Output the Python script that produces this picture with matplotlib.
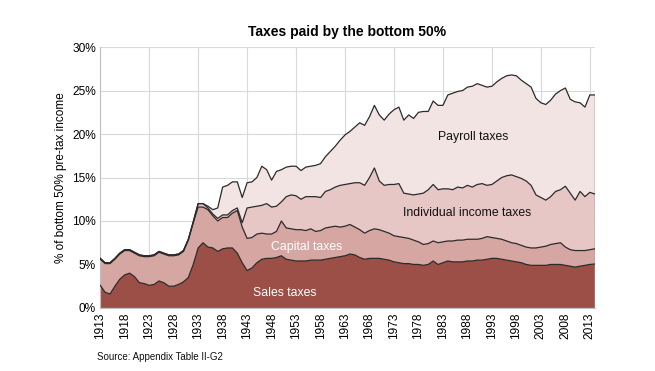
import matplotlib
matplotlib.use("Agg")
import matplotlib.pyplot as plt
import numpy as np

plt.rcParams['font.family'] = ['Liberation Sans', 'DejaVu Sans']

years = list(range(1913, 2015))

sales = [
    2.6, 1.8, 1.6, 2.5, 3.3, 3.8, 4.0, 3.6, 2.9, 2.8,
    2.6, 2.7, 3.1, 2.9, 2.5, 2.5, 2.7, 3.0, 3.5, 5.0,
    6.9, 7.5, 7.0, 6.9, 6.5, 6.8, 6.9, 6.9, 6.3, 5.2,
    4.3, 4.6, 5.2, 5.6, 5.7, 5.7, 5.8, 6.0, 5.6, 5.5,
    5.4, 5.4, 5.4, 5.5, 5.5, 5.5, 5.6, 5.7, 5.8, 5.9,
    6.0, 6.2, 6.1, 5.8, 5.6, 5.7, 5.7, 5.7, 5.6, 5.5,
    5.3, 5.2, 5.1, 5.1, 5.0, 5.0, 4.9, 5.0, 5.4, 5.0,
    5.2, 5.4, 5.3, 5.3, 5.3, 5.4, 5.4, 5.5, 5.5, 5.6,
    5.7, 5.7, 5.6, 5.5, 5.4, 5.3, 5.2, 5.0, 4.9, 4.9,
    4.9, 4.9, 5.0, 5.0, 5.0, 4.9, 4.8, 4.7, 4.8, 4.9,
    5.0, 5.05,
]

capital = [
    3.0, 3.3, 3.5, 3.1, 2.9, 2.8, 2.6, 2.7, 3.1, 3.1,
    3.3, 3.3, 3.3, 3.3, 3.5, 3.5, 3.4, 3.5, 4.3, 4.8,
    4.7, 4.1, 4.3, 3.7, 3.5, 3.6, 3.5, 4.0, 4.9, 4.1,
    3.7, 3.5, 3.3, 3.0, 2.8, 2.8, 3.0, 4.0, 3.6, 3.6,
    3.6, 3.6, 3.5, 3.6, 3.3, 3.4, 3.6, 3.6, 3.6, 3.4,
    3.4, 3.4, 3.2, 3.2, 3.0, 3.2, 3.4, 3.3, 3.2, 3.1,
    3.0, 3.0, 3.0, 2.9, 2.8, 2.6, 2.4, 2.4, 2.3, 2.5,
    2.4, 2.3, 2.4, 2.5, 2.5, 2.5, 2.5, 2.4, 2.5, 2.6,
    2.4, 2.3, 2.3, 2.2, 2.1, 2.1, 2.0, 2.0, 2.0, 2.0,
    2.1, 2.2, 2.3, 2.4, 2.5, 2.1, 1.9, 1.9, 1.8, 1.7,
    1.7, 1.75,
]

individual = [
    0.1, 0.1, 0.1, 0.1, 0.1, 0.1, 0.1, 0.1, 0.1, 0.1,
    0.1, 0.1, 0.1, 0.1, 0.1, 0.1, 0.1, 0.1, 0.1, 0.1,
    0.4, 0.4, 0.2, 0.2, 0.3, 0.3, 0.3, 0.3, 0.3, 0.5,
    3.5, 3.5, 3.2, 3.2, 3.5, 3.1, 2.9, 2.2, 3.6, 3.9,
    3.9, 3.5, 3.9, 3.7, 4.0, 3.8, 4.2, 4.3, 4.5, 4.8,
    4.8, 4.7, 5.1, 5.4, 5.5, 6.1, 7.0, 5.6, 5.3, 5.6,
    5.9, 6.1, 5.1, 5.1, 5.2, 5.5, 5.9, 6.2, 6.5, 6.1,
    6.1, 6.0, 5.9, 6.1, 6.0, 6.2, 6.0, 6.3, 6.3, 5.9,
    6.1, 6.6, 7.1, 7.5, 7.8, 7.7, 7.7, 7.6, 7.2, 6.1,
    5.7, 5.3, 5.5, 6.0, 6.1, 7.0, 6.5, 5.8, 6.8, 6.2,
    6.6, 6.3,
]

payroll = [
    0.0, 0.0, 0.0, 0.0, 0.0, 0.0, 0.0, 0.0, 0.0, 0.0,
    0.0, 0.0, 0.0, 0.0, 0.0, 0.0, 0.0, 0.0, 0.0, 0.0,
    0.0, 0.0, 0.2, 0.5, 1.2, 3.2, 3.4, 3.3, 3.0, 2.9,
    2.9, 2.9, 3.3, 4.5, 3.9, 3.1, 4.0, 3.7, 3.4, 3.3,
    3.4, 3.3, 3.4, 3.5, 3.6, 3.9, 4.0, 4.4, 4.7, 5.2,
    5.7, 6.0, 6.4, 6.9, 6.9, 7.0, 7.2, 7.6, 7.5, 8.1,
    8.6, 8.8, 8.4, 9.1, 8.8, 9.4, 9.4, 9.0, 9.6, 9.7,
    9.6, 10.8, 11.1, 11.0, 11.2, 11.3, 11.6, 11.6, 11.3, 11.3,
    11.3, 11.4, 11.4, 11.5, 11.5, 11.6, 11.3, 11.2, 11.3, 11.1,
    10.9, 11.0, 11.1, 11.2, 11.4, 11.3, 10.8, 11.3, 10.2, 10.3,
    11.2, 11.4,
]

series_names = ["Sales taxes", "Capital taxes", "Individual income taxes", "Payroll taxes"]
colors = ["#9b4f47", "#d6a7a2", "#e7c7c5", "#f3e4e4"]
tick_years = list(range(1913, 2014, 5))
grid_years = list(range(1913, 2014, 10))

fig = plt.figure(figsize=(6.55, 3.71), dpi=100)
ax = fig.add_axes([0.153, 0.170, 0.755, 0.703])

x = np.array(years)
layers = [np.array(sales), np.array(capital), np.array(individual), np.array(payroll)]
base = np.zeros(len(x))
for vals, col in zip(layers, colors):
    top = base + vals
    ax.fill_between(x, base, top, facecolor=col, edgecolor='none', zorder=2)
    ax.plot(x, top, color='#2b2b2b', lw=0.9, zorder=3)
    base = top
ax.plot([x[-1], x[-1]], [0, base[-1]], color='#444444', lw=1.0, zorder=3)

ax.set_xlim(1913, 2014)
ax.set_ylim(0, 30)
ax.set_yticks(range(0, 31, 5))
ax.set_yticklabels([f"{v}%" for v in range(0, 31, 5)], fontsize=8.6)
ax.set_xticks(tick_years)
ax.set_xticklabels([str(y) for y in tick_years], rotation=90, fontsize=8.6)
ax.tick_params(length=0, pad=3)

for gy in grid_years:
    ax.axvline(gy, color='#d9d9d9', lw=0.8, zorder=1)
for v in range(5, 31, 5):
    ax.axhline(v, color='#d9d9d9', lw=0.8, zorder=1)

for s in ['top', 'right']:
    ax.spines[s].set_visible(False)
ax.spines['left'].set_color('#bfbfbf')
ax.spines['bottom'].set_color('#bfbfbf')

ax.set_ylabel("% of bottom 50% pre-tax income", fontsize=8.5, labelpad=4)
ax.set_title("Taxes paid by the bottom 50%", fontsize=10, fontweight='bold', pad=8)

ax.text(1989.2, 19.7, "Payroll taxes", fontsize=8.8, ha='center', va='center', color='#111111', zorder=4)
ax.text(1988.0, 10.9, "Individual income taxes", fontsize=8.8, ha='center', va='center', color='#111111', zorder=4)
ax.text(1955.2, 7.0, "Capital taxes", fontsize=8.8, ha='center', va='center', color='white', zorder=4)
ax.text(1950.7, 1.7, "Sales taxes", fontsize=8.8, ha='center', va='center', color='white', zorder=4)

fig.text(97/655, 1 - 357/371, "Source: Appendix Table II-G2", fontsize=7, ha='left', va='center', color='#111111')

fig.savefig("out.png", dpi=100)
